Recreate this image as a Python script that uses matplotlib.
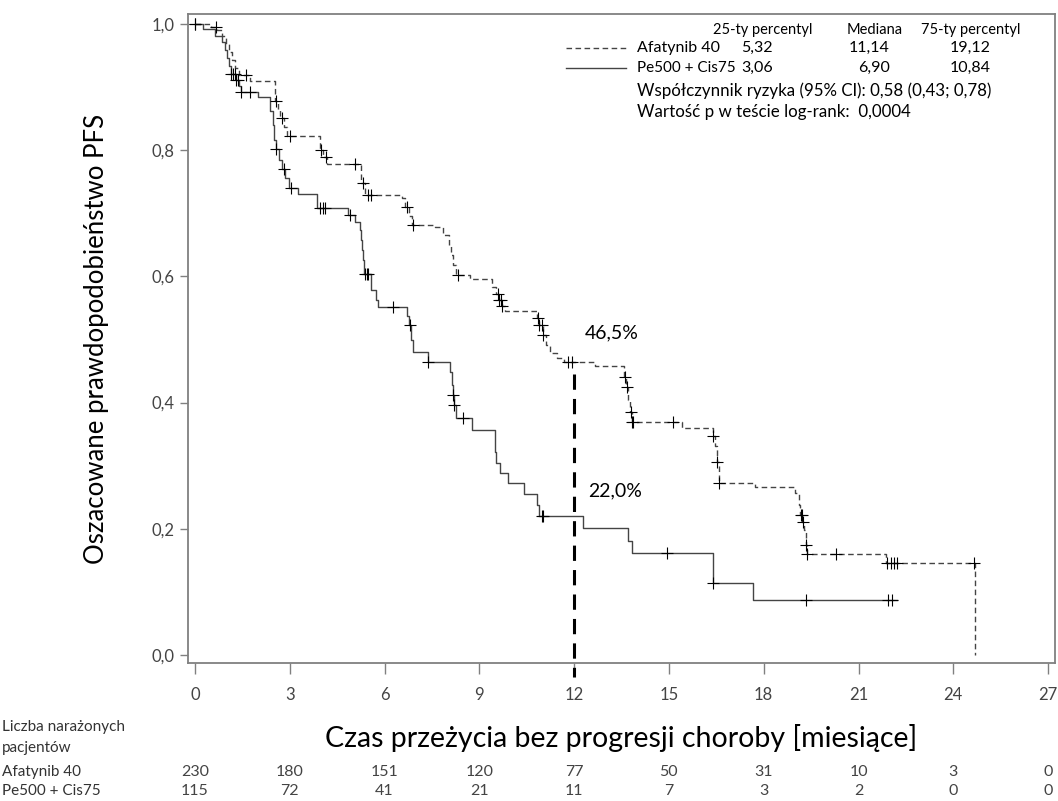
import numpy as np
import matplotlib
matplotlib.use('Agg')
import matplotlib.pyplot as plt
from matplotlib.transforms import blended_transform_factory

plt.rcParams['font.family'] = ['Lato', 'DejaVu Sans']

# Afatynib 40 - KM step curve: start of each level (months) and PFS level
afa_t = [0, 0.51, 0.70, 0.85, 0.98, 1.08, 1.17, 1.27, 1.39, 1.74, 2.53, 2.63, 2.69, 2.82, 2.91,
         3.96, 4.05, 4.18, 5.25, 5.38, 6.55, 6.65, 6.77, 6.87, 7.60, 7.85, 8.04, 8.10, 8.17, 8.26,
         8.71, 9.40, 9.53, 9.62, 9.72, 9.81, 10.83, 10.89, 11.02, 11.11, 11.24, 11.46, 11.68,
         12.66, 13.58, 13.64, 13.71, 13.77, 13.83, 15.42, 16.40, 16.46, 16.52, 16.59, 17.73,
         18.99, 19.12, 19.15, 19.22, 19.28, 19.34, 19.37, 21.87, 24.69]
afa_s = [1.0, 0.995, 0.99, 0.981, 0.968, 0.956, 0.943, 0.930, 0.919, 0.910, 0.878, 0.864, 0.851,
         0.837, 0.822, 0.800, 0.789, 0.778, 0.748, 0.729, 0.724, 0.710, 0.696, 0.681, 0.678, 0.666,
         0.650, 0.634, 0.618, 0.602, 0.596, 0.583, 0.572, 0.563, 0.553, 0.545, 0.534, 0.523, 0.507,
         0.491, 0.479, 0.471, 0.465, 0.458, 0.441, 0.425, 0.404, 0.385, 0.369, 0.360, 0.347, 0.331,
         0.306, 0.273, 0.266, 0.257, 0.238, 0.222, 0.211, 0.198, 0.174, 0.160, 0.146, 0.0]
afa_cens = [0, 0.66, 1.61, 2.56, 2.75, 3.01, 3.99, 4.15, 5.06, 5.32, 5.48, 5.57, 6.71, 6.90, 8.33,
            9.59, 9.62, 9.69, 9.72, 10.86, 10.89, 10.98, 11.02, 11.81, 11.93, 13.61, 13.68, 13.80,
            13.83, 13.87, 15.13, 16.40, 16.52, 16.59, 19.18, 19.21, 19.25, 19.34, 19.37, 20.29,
            21.91, 22.03, 22.13, 22.22, 24.66]

# Pe500 + Cis75
pem_t = [0, 0.25, 0.63, 0.85, 0.95, 1.01, 1.08, 1.14, 1.30, 1.39, 1.46, 1.99, 2.37, 2.47, 2.50,
         2.56, 2.66, 2.75, 2.85, 2.98, 3.26, 3.86, 4.84, 5.06, 5.22, 5.25, 5.29, 5.32, 5.35, 5.57,
         5.73, 5.79, 6.71, 6.77, 6.84, 6.90, 7.38, 8.07, 8.14, 8.17, 8.20, 8.26, 8.77, 9.50, 9.53,
         9.66, 9.91, 10.41, 10.83, 10.89, 12.28, 13.71, 13.83, 16.40, 17.66, 22.22]
pem_s = [1.0, 0.992, 0.981, 0.971, 0.959, 0.946, 0.933, 0.921, 0.911, 0.902, 0.892, 0.884, 0.862,
         0.840, 0.816, 0.802, 0.784, 0.770, 0.756, 0.740, 0.731, 0.708, 0.697, 0.686, 0.674, 0.658,
         0.642, 0.626, 0.604, 0.578, 0.563, 0.551, 0.537, 0.523, 0.499, 0.480, 0.464, 0.448, 0.428,
         0.412, 0.396, 0.376, 0.357, 0.322, 0.304, 0.288, 0.273, 0.255, 0.238, 0.220, 0.201, 0.181,
         0.162, 0.114, 0.087, 0.087]
pem_cens = [0, 1.14, 1.20, 1.27, 1.30, 1.36, 1.46, 1.74, 2.56, 2.82, 3.04, 3.96, 4.05, 4.12, 4.91,
            5.38, 5.44, 5.48, 6.27, 6.81, 7.38, 8.17, 8.20, 8.48, 10.98, 11.02, 14.94, 16.40,
            19.34, 21.94, 22.06]

# number at risk
risk_times = [0, 3, 6, 9, 12, 15, 18, 21, 24, 27]
risk_afa = [230, 180, 151, 120, 77, 50, 31, 10, 3, 0]
risk_pem = [115, 72, 41, 21, 11, 7, 3, 2, 0, 0]

# landmark at 12 months
land_t = 12
land_afa = '46,5%'
land_pem = '22,0%'


def level_at(t, s, times):
    idx = np.searchsorted(t, times, side='right') - 1
    return np.array(s)[idx]


fig = plt.figure(figsize=(10.58, 8.01), dpi=100)
ax = fig.add_axes([0.1777, 0.1723, 0.8195, 0.8102])

ax.step(afa_t, afa_s, where='post', color='#444444', lw=1.0, ls=(0, (4, 2.5)))
ax.step(pem_t, pem_s, where='post', color='#444444', lw=1.0)
ax.plot(afa_cens, level_at(afa_t, afa_s, afa_cens), '+', color='black', ms=8, mew=0.8)
ax.plot(pem_cens, level_at(pem_t, pem_s, pem_cens), '+', color='black', ms=8, mew=0.8)

# 12 month marker line
ax.plot([land_t, land_t], [level_at(afa_t, afa_s, [land_t])[0] - 0.02, -0.035], color='black',
        lw=2.2, ls=(0, (5, 3)), clip_on=False)
ax.text(land_t + 0.35, 0.51, land_afa, fontsize=14, ha='left', va='center')
ax.text(land_t + 0.45, 0.26, land_pem, fontsize=14, ha='left', va='center')

ax.set_xlim(-0.22, 27.22)
ax.set_ylim(-0.0127, 1.0158)
ax.set_xticks(risk_times)
yt = np.arange(0, 1.01, 0.2)
ax.set_yticks(yt)
ax.set_yticklabels([('%.1f' % v).replace('.', ',') for v in yt])
for sp in ax.spines.values():
    sp.set_color('#808080')
    sp.set_linewidth(1.3)
ax.tick_params(axis='x', direction='out', length=8, width=1.0, color='#808080', pad=9,
               labelsize=12, labelcolor='#444444')
ax.tick_params(axis='y', direction='out', length=6, width=1.0, color='#808080', pad=4,
               labelsize=12, labelcolor='#444444')

ax.set_xlabel('Czas przeżycia bez progresji choroby [miesiące]', fontsize=20.5, va='center')
ax.xaxis.set_label_coords(0.5, -0.1156)
ax.set_ylabel('Oszacowane prawdopodobieństwo PFS', fontsize=18.5, va='center')
ax.yaxis.set_label_coords(-0.105, 0.5)

# legend block
W, H = 1058.0, 801.0
def ftext(x, y, s, **kw):
    fig.text(x / W, 1 - y / H, s, va='center', **kw)

ftext(763, 30, '25-ty percentyl', fontsize=10.5, ha='center')
ftext(875, 30, 'Mediana', fontsize=10.5, ha='center')
ftext(971, 30, '75-ty percentyl', fontsize=10.5, ha='center')
fig.add_artist(plt.Line2D([566 / W, 626 / W], [1 - 48 / H, 1 - 48 / H], color='#444444', lw=1.0,
                          ls=(0, (4, 2.5))))
fig.add_artist(plt.Line2D([566 / W, 626 / W], [1 - 68 / H, 1 - 68 / H], color='#444444', lw=1.0))
ftext(637, 48, 'Afatynib 40', fontsize=11.5, ha='left')
ftext(637, 68, 'Pe500 + Cis75', fontsize=11, ha='left')
ftext(757, 48, '5,32', fontsize=11.5, ha='center')
ftext(757, 68, '3,06', fontsize=11.5, ha='center')
ftext(890, 48, '11,14', fontsize=11.5, ha='right')
ftext(890, 68, '6,90', fontsize=11.5, ha='right')
ftext(970, 48, '19,12', fontsize=11.5, ha='center')
ftext(970, 68, '10,84', fontsize=11.5, ha='center')
ftext(637, 91, 'Współczynnik ryzyka (95% CI): 0,58 (0,43; 0,78)', fontsize=12.2, ha='left')
ftext(637, 112, 'Wartość p w teście log-rank:  0,0004', fontsize=12.2, ha='left')

# number at risk table
ftext(2, 727, 'Liczba narażonych', fontsize=11, ha='left', color='#333333')
ftext(2, 748, 'pacjentów', fontsize=11, ha='left', color='#333333')
ftext(2, 772, 'Afatynib 40', fontsize=11, ha='left', color='#333333')
ftext(2, 791, 'Pe500 + Cis75', fontsize=11, ha='left', color='#333333')
tr = blended_transform_factory(ax.transData, fig.transFigure)
for t, a, p in zip(risk_times, risk_afa, risk_pem):
    ax.text(t, 1 - 772 / H, str(a), transform=tr, ha='center', va='center', fontsize=11.5,
            color='#444444')
    ax.text(t, 1 - 791 / H, str(p), transform=tr, ha='center', va='center', fontsize=11.5,
            color='#444444')

fig.savefig('out.png', dpi=100)
